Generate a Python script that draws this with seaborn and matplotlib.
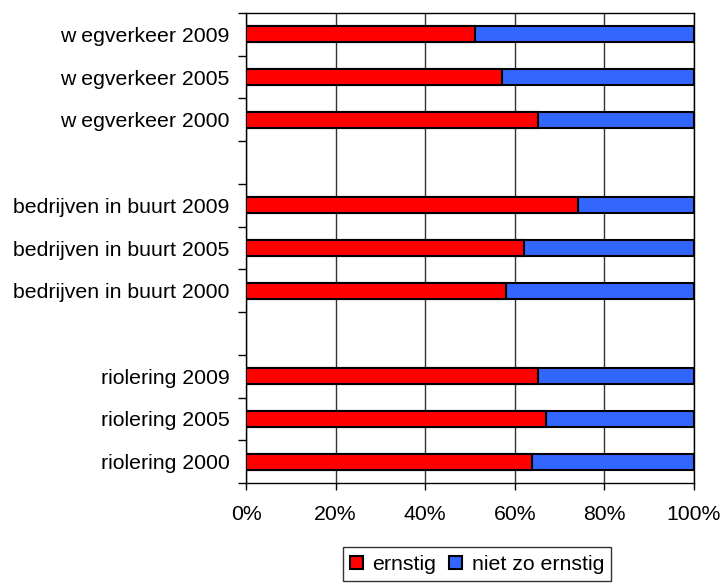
import pandas as pd
import matplotlib.pyplot as plt
import seaborn as sns
from matplotlib.patches import Patch

# categorieen van boven naar onder (lege regels als scheiding)
labels = [
    'w egverkeer 2009', 'w egverkeer 2005', 'w egverkeer 2000', ' ',
    'bedrijven in buurt 2009', 'bedrijven in buurt 2005', 'bedrijven in buurt 2000', '  ',
    'riolering 2009', 'riolering 2005', 'riolering 2000',
]
categories = [
    'w egverkeer 2009', 'w egverkeer 2005', 'w egverkeer 2000',
    'bedrijven in buurt 2009', 'bedrijven in buurt 2005', 'bedrijven in buurt 2000',
    'riolering 2009', 'riolering 2005', 'riolering 2000',
]
ernstig = [51.0, 57.2, 65.2, 74.2, 62.1, 58.1, 65.2, 67.0, 63.9]
niet_zo_ernstig = [100 - v for v in ernstig]

series_names = ['ernstig', 'niet zo ernstig']
colors = ['#FF0000', '#3366FF']

df = pd.DataFrame({'categorie': categories,
                   'ernstig': ernstig,
                   'niet zo ernstig': niet_zo_ernstig})
df['totaal'] = df['ernstig'] + df['niet zo ernstig']

sns.set_style('white')
plt.rcParams['font.family'] = ['Liberation Sans', 'DejaVu Sans']
plt.rcParams['text.color'] = 'black'
plt.rcParams['xtick.color'] = 'black'
plt.rcParams['ytick.color'] = 'black'

fs = 15.3

fig = plt.figure(figsize=(7.24, 5.83), dpi=100)
ax = fig.add_axes([0.3398, 0.1715, 0.6188, 0.8062])

# gestapeld: eerst totaal (blauw), daarover ernstig (rood)
sns.barplot(data=df, y='categorie', x='totaal', order=labels, orient='h',
            color=colors[1], edgecolor='black', linewidth=1.5, width=0.375,
            saturation=1, ax=ax, zorder=3)
sns.barplot(data=df, y='categorie', x='ernstig', order=labels, orient='h',
            color=colors[0], edgecolor='black', linewidth=1.5, width=0.375,
            saturation=1, ax=ax, zorder=4)

ax.set_xlim(0, 100)
ax.set_ylim(10.5, -0.5)
ax.set_xticks(range(0, 101, 20))
ax.set_xticklabels([f'{v}%' for v in range(0, 101, 20)], fontsize=fs)
ax.set_yticks(range(len(labels)))
ax.set_yticklabels(labels, fontsize=fs)
ax.set_yticks([i - 0.5 for i in range(len(labels) + 1)], minor=True)
ax.tick_params(axis='y', which='major', length=0, pad=12)
ax.tick_params(axis='y', which='minor', length=6, width=1, color='black', left=True)
ax.tick_params(axis='x', length=5, width=1, color='black', bottom=True, pad=11)
ax.set_xlabel('')
ax.set_ylabel('')

ax.grid(True, axis='x', color='#333333', linewidth=1, zorder=0)
ax.set_axisbelow(True)
for s in ax.spines.values():
    s.set_color('black')
    s.set_linewidth(1)

handles = [Patch(facecolor=c, edgecolor='black', linewidth=1.5) for c in colors]
leg = fig.legend(handles, series_names, loc='center', bbox_to_anchor=(0.659, 0.032),
                 ncol=2, fontsize=fs, frameon=True, fancybox=False,
                 handlelength=0.6, handleheight=0.6, handletextpad=0.45,
                 columnspacing=0.6, borderpad=0.35)
leg.get_frame().set_edgecolor('black')
leg.get_frame().set_linewidth(1)

plt.savefig('out.png', dpi=100)
